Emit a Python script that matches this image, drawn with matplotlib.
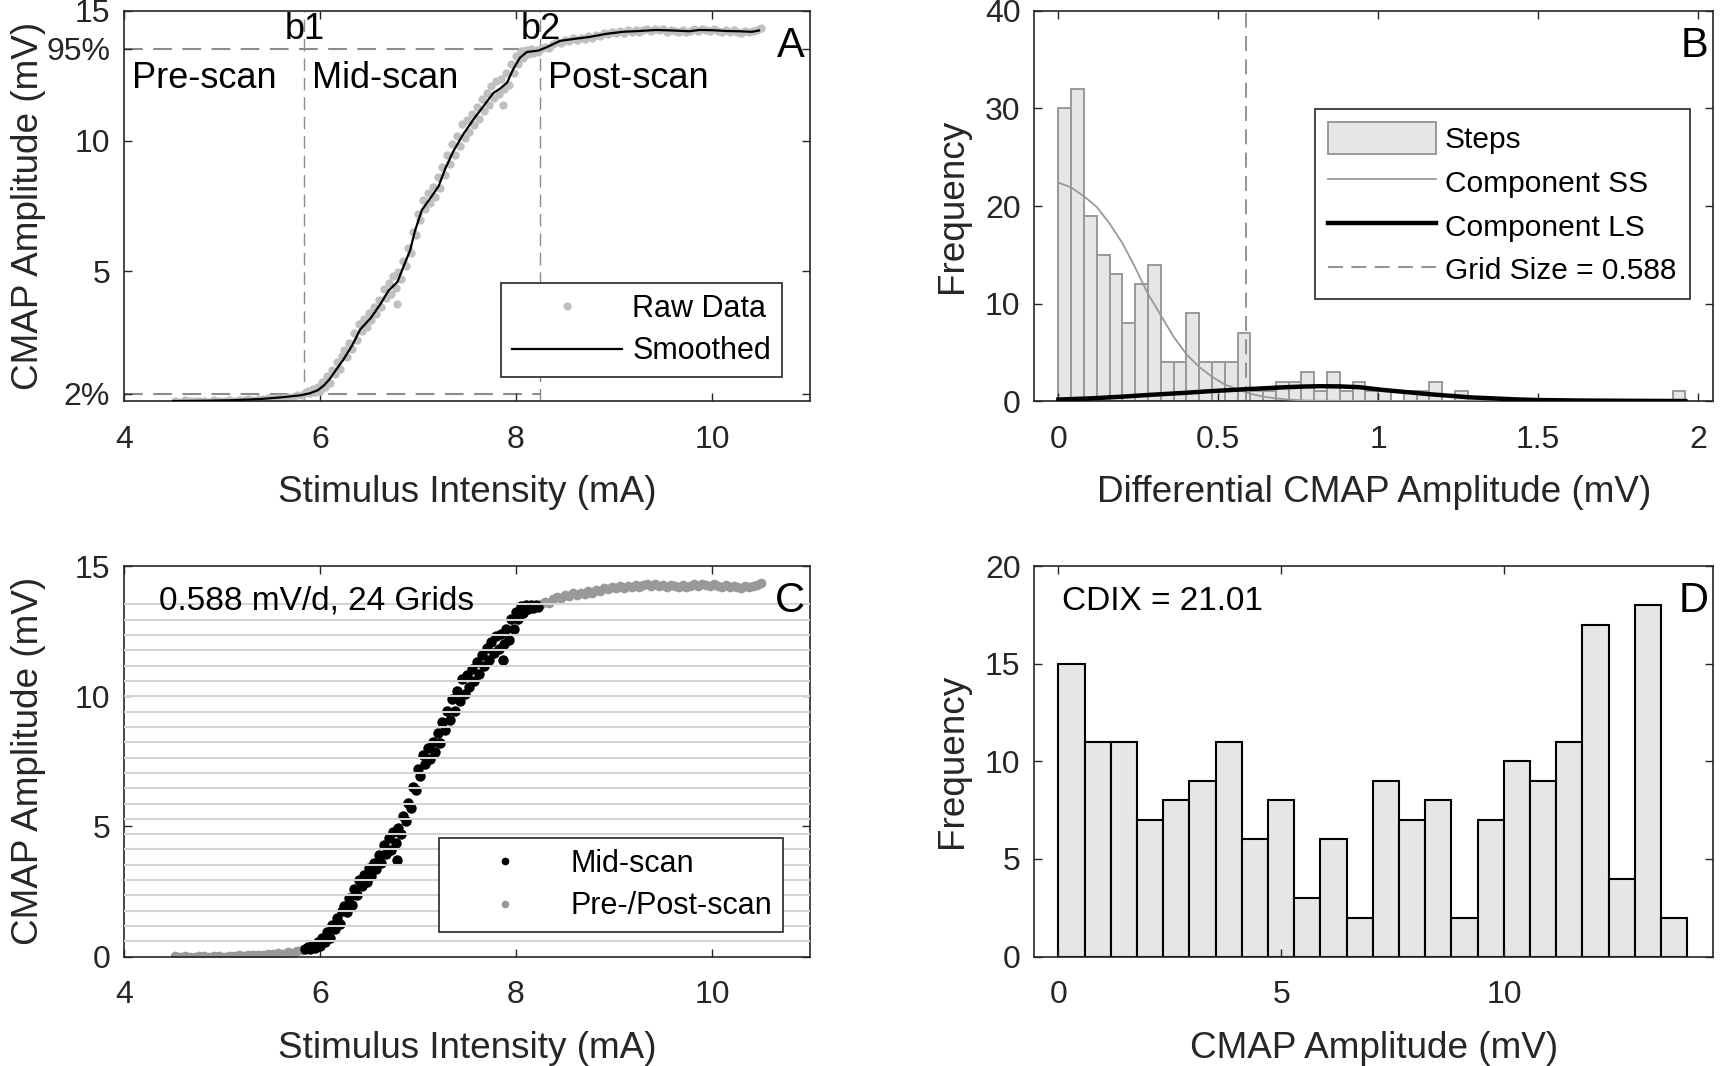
import numpy as np
import matplotlib
matplotlib.use('Agg')
import matplotlib.pyplot as plt
from matplotlib.patches import Patch
from matplotlib.lines import Line2D

plt.rcParams['font.family'] = ['Liberation Sans', 'DejaVu Sans']

# ---------------- data ----------------
# Raw CMAP scan (stimulus mA, amplitude mV), split into scan phases
pre_x = [4.52, 4.57, 4.62, 4.67, 4.72, 4.77, 4.82, 4.87, 4.92, 4.97, 5.02, 5.07, 5.12, 5.17,
         5.22, 5.27, 5.32, 5.37, 5.42, 5.47, 5.52, 5.57, 5.62, 5.67, 5.72, 5.77, 5.82]
pre_y = [0.01, -0.02, 0.03, 0.00, -0.01, 0.02, 0.01, -0.02, 0.03, 0.01, 0.00, 0.04, 0.02, 0.05,
         0.03, 0.07, 0.05, 0.08, 0.06, 0.11, 0.09, 0.13, 0.12, 0.17, 0.15, 0.22, 0.24]

mid_x = [5.850, 5.875, 5.900, 5.925, 5.950, 5.975, 6.000, 6.025, 6.050, 6.075,
         6.100, 6.125, 6.150, 6.175, 6.200, 6.225, 6.250, 6.275, 6.300, 6.325,
         6.350, 6.375, 6.400, 6.425, 6.450, 6.475, 6.500, 6.525, 6.550, 6.575,
         6.600, 6.625, 6.650, 6.675, 6.700, 6.725, 6.750, 6.775, 6.790, 6.800,
         6.825, 6.850, 6.875, 6.900, 6.925, 6.950, 6.975, 7.000, 7.025, 7.050,
         7.075, 7.100, 7.125, 7.150, 7.175, 7.200, 7.225, 7.250, 7.275, 7.300,
         7.325, 7.350, 7.375, 7.400, 7.425, 7.450, 7.475, 7.500, 7.525, 7.550,
         7.575, 7.600, 7.625, 7.650, 7.675, 7.700, 7.725, 7.750, 7.775, 7.800,
         7.825, 7.850, 7.870, 7.875, 7.900, 7.925, 7.950, 7.975, 8.000, 8.025,
         8.050, 8.075, 8.100, 8.125, 8.150, 8.175, 8.200, 8.225]
mid_y = [0.29, 0.38, 0.30, 0.45, 0.33, 0.55, 0.40, 0.72, 0.55, 0.95,
         0.70, 1.20, 1.05, 1.50, 1.25, 1.75, 1.95, 1.70, 2.25, 2.00,
         2.60, 2.35, 2.95, 2.70, 3.15, 2.85, 3.40, 3.10, 3.60, 3.35,
         3.90, 3.60, 4.30, 3.95, 4.55, 4.10, 4.80, 4.35, 3.72, 4.95,
         4.70, 5.40, 5.20, 5.90, 5.70, 6.50, 6.40, 7.20, 6.95, 7.75,
         7.40, 8.00, 7.60, 8.25, 7.85, 8.60, 8.20, 9.00, 8.70, 9.45,
         9.10, 9.90, 9.45, 10.20, 9.80, 10.65, 10.10, 10.80, 10.35, 11.05,
         10.60, 11.30, 10.85, 11.60, 11.15, 11.85, 11.40, 12.10, 11.65, 12.30,
         11.80, 12.40, 11.38, 12.00, 12.60, 12.15, 12.95, 12.60, 13.25, 12.95,
         13.45, 13.20, 13.50, 13.35, 13.52, 13.40, 13.50, 13.42]

post_x = [8.26, 8.30, 8.34, 8.38, 8.42, 8.46, 8.50, 8.54, 8.58, 8.62, 8.66, 8.70, 8.74, 8.78,
          8.82, 8.86, 8.90, 8.94, 8.98, 9.02, 9.06, 9.10, 9.14, 9.18, 9.22, 9.26, 9.30, 9.34,
          9.38, 9.42, 9.46, 9.50, 9.54, 9.58, 9.62, 9.66, 9.70, 9.74, 9.78, 9.82, 9.86, 9.90,
          9.94, 9.98, 10.02, 10.06, 10.10, 10.14, 10.18, 10.22, 10.26, 10.30, 10.34, 10.38,
          10.42, 10.46, 10.50]
post_y = [13.55, 13.62, 13.58, 13.72, 13.80, 13.78, 13.90, 13.85, 13.95, 13.90, 13.98, 13.94,
          14.05, 13.98, 14.08, 14.04, 14.15, 14.10, 14.20, 14.14, 14.22, 14.17, 14.25, 14.20,
          14.28, 14.21, 14.26, 14.30, 14.22, 14.32, 14.25, 14.29, 14.20, 14.28, 14.24, 14.18,
          14.26, 14.20, 14.24, 14.30, 14.22, 14.31, 14.27, 14.22, 14.30, 14.24, 14.20, 14.27,
          14.18, 14.25, 14.21, 14.17, 14.24, 14.19, 14.23, 14.28, 14.33]

# Smoothed curve
smooth_x = [4.50, 4.80, 5.10, 5.40, 5.60, 5.80, 5.90, 5.98, 6.04, 6.10, 6.16, 6.24, 6.33, 6.41,
            6.52, 6.62, 6.70, 6.79, 6.85, 6.92, 6.97, 7.04, 7.13, 7.21, 7.28, 7.36, 7.46, 7.57,
            7.67, 7.77, 7.84, 7.91, 7.97, 8.04, 8.11, 8.23, 8.31, 8.45, 8.60, 8.75, 8.92, 9.09,
            9.26, 9.43, 9.60, 9.77, 9.87, 10.01, 10.14, 10.28, 10.41, 10.48]
smooth_y = [0.00, 0.01, 0.03, 0.08, 0.14, 0.22, 0.30, 0.42, 0.60, 0.85, 1.18, 1.60, 2.15, 2.75,
            3.20, 3.75, 4.25, 4.58, 5.15, 5.80, 6.55, 7.35, 7.82, 8.26, 8.95, 9.60, 10.25, 10.85,
            11.35, 11.85, 12.02, 12.25, 12.75, 13.20, 13.42, 13.48, 13.60, 13.85, 13.93, 14.00,
            14.12, 14.20, 14.23, 14.27, 14.25, 14.22, 14.27, 14.26, 14.23, 14.22, 14.20, 14.25]

b1, b2 = 5.84, 8.25
pct2, pct95 = 0.285, 13.54
grid_size = 0.588

# Panel B: histogram of steps (bin width 0.04 mV)
step_bin_width = 0.04
step_counts = [30, 32, 19, 15, 13, 8, 12, 14, 4, 4, 9, 4, 4, 4, 7,
               1, 1, 2, 2, 3, 1, 3, 1, 2, 1, 1, 0, 1, 1, 2, 0, 1,
               0, 0, 0, 0, 0, 0, 0, 0, 0, 0, 0, 0, 0, 0, 0, 0, 1]
ss_x = [0.00, 0.04, 0.08, 0.12, 0.16, 0.20, 0.24, 0.28, 0.32, 0.36, 0.40, 0.44, 0.48, 0.52,
        0.56, 0.60, 0.64, 0.68, 0.72, 0.76, 0.80, 1.00, 1.50, 1.96]
ss_y = [22.4, 21.9, 21.0, 19.9, 18.2, 16.2, 13.7, 11.0, 8.8, 6.6, 4.8, 3.5, 2.5, 1.7,
        1.2, 0.75, 0.45, 0.27, 0.15, 0.07, 0.03, 0.0, 0.0, 0.0]
ls_x = [0.00, 0.10, 0.20, 0.28, 0.40, 0.48, 0.59, 0.70, 0.76, 0.82, 0.88, 0.94, 1.02, 1.16,
        1.29, 1.43, 1.50, 1.63, 1.80, 1.96]
ls_y = [0.15, 0.27, 0.45, 0.62, 0.85, 1.02, 1.22, 1.40, 1.48, 1.52, 1.50, 1.42, 1.12, 0.70,
        0.37, 0.17, 0.10, 0.05, 0.02, 0.0]

# Panel D: histogram of CMAP amplitudes on the grid
amp_counts = [15, 11, 11, 7, 8, 9, 11, 6, 8, 3, 6, 2, 9, 7, 8, 2, 7, 10, 9, 11, 17, 4, 18, 2]
cdix = 21.01
n_grids = 24

# ---------------- styling ----------------
DARK = '#262626'
TICK_FS = 23
LABEL_FS = 26.6
LEG_FS = 22
TXT_FS = 26
NOTE_FS = 24
LET_FS = 30
DASH = (0, (9, 5))

fig = plt.figure(figsize=(17.2, 10.66), dpi=100)
axA = fig.add_axes([0.0721, 0.6238, 0.3988, 0.3659])
axB = fig.add_axes([0.6014, 0.6238, 0.3948, 0.3659])
axC = fig.add_axes([0.0721, 0.1026, 0.3988, 0.3664])
axD = fig.add_axes([0.6014, 0.1026, 0.3948, 0.3664])


def style(ax):
    for s in ax.spines.values():
        s.set_color(DARK)
        s.set_linewidth(1.2)
    ax.tick_params(direction='in', length=6, width=1.0, colors=DARK, labelsize=TICK_FS,
                   top=True, right=True, labeltop=False, labelright=False)
    ax.tick_params(axis='x', pad=17)
    ax.tick_params(axis='y', pad=10)


def labels(ax, xl, yl, ylx):
    ax.set_xlabel(xl, fontsize=LABEL_FS, color=DARK)
    ax.set_ylabel(yl, fontsize=LABEL_FS, color=DARK)
    ax.xaxis.set_label_coords(0.5, -0.19)
    ax.yaxis.set_label_coords(ylx, 0.5)


def leg_style(leg):
    fr = leg.get_frame()
    fr.set_edgecolor(DARK)
    fr.set_linewidth(1.2)
    fr.set_facecolor('white')
    fr.set_alpha(1)


def letter(ax, s):
    ax.text(0.993, 0.91, s, transform=ax.transAxes, ha='right', va='center',
            fontsize=LET_FS, color='black', zorder=10)


# ---------------- Panel A ----------------
ax = axA
style(ax)
raw_x = pre_x + mid_x + post_x
raw_y = pre_y + mid_y + post_y
ax.plot(raw_x, raw_y, 'o', color='#c0c0c0', markersize=6, markeredgewidth=0, zorder=2)
ax.plot(smooth_x, smooth_y, '-', color='black', lw=1.6, zorder=3)
ax.plot([4, b2], [pct95, pct95], color='#8c8c8c', lw=1.5, ls=DASH, zorder=1)
ax.plot([4, b2], [pct2, pct2], color='#8c8c8c', lw=1.5, ls=DASH, zorder=1)
ax.axvline(b1, color='#8c8c8c', lw=1.0, ls=DASH, zorder=1)
ax.axvline(b2, color='#8c8c8c', lw=1.0, ls=DASH, zorder=1)
ax.text(b1, 14.3, 'b1', ha='center', va='center', fontsize=TXT_FS)
ax.text(b2, 14.3, 'b2', ha='center', va='center', fontsize=TXT_FS)
ax.text(4.08, 12.4, 'Pre-scan', ha='left', va='center', fontsize=TXT_FS)
ax.text(b1 + 0.08, 12.4, 'Mid-scan', ha='left', va='center', fontsize=TXT_FS)
ax.text(b2 + 0.08, 12.4, 'Post-scan', ha='left', va='center', fontsize=TXT_FS)
letter(ax, 'A')
ax.set_xlim(4, 11)
ax.set_ylim(0, 15)
ax.set_xticks([4, 6, 8, 10])
ax.set_yticks([pct2, 5, 10, pct95, 15])
ax.set_yticklabels(['2%', '5', '10', '95%', '15'])
labels(ax, 'Stimulus Intensity (mA)', 'CMAP Amplitude (mV)', -0.114)
hA = [Line2D([], [], marker='o', ls='none', color='#c0c0c0', markersize=6, markeredgewidth=0),
      Line2D([], [], color='black', lw=1.6)]
leg = ax.legend(hA, ['Raw Data', 'Smoothed'], loc='upper right', bbox_to_anchor=(0.959, 0.303),
                fontsize=LEG_FS, handlelength=3.6, handletextpad=0.35, borderpad=0.35,
                labelspacing=0.42, fancybox=False, numpoints=1, borderaxespad=0)
leg_style(leg)

# ---------------- Panel B ----------------
ax = axB
style(ax)
lefts = np.arange(len(step_counts)) * step_bin_width
ax.bar(lefts, step_counts, width=step_bin_width, align='edge', color='#e6e6e6',
       edgecolor='#999999', linewidth=1.4, zorder=1)
ax.plot(ss_x, ss_y, color='#999999', lw=1.3, zorder=3)
ax.plot(ls_x, ls_y, color='black', lw=3.2, zorder=4)
ax.axvline(grid_size, color='#808080', lw=1.2, ls=DASH, zorder=2)
letter(ax, 'B')
ax.set_xlim(-0.075, 2.048)
ax.set_ylim(0, 40)
ax.set_xticks([0, 0.5, 1, 1.5, 2])
ax.set_xticklabels(['0', '0.5', '1', '1.5', '2'])
ax.set_yticks([0, 10, 20, 30, 40])
labels(ax, 'Differential CMAP Amplitude (mV)', 'Frequency', -0.0955)
hB = [Patch(facecolor='#e6e6e6', edgecolor='#999999', linewidth=1.4),
      Line2D([], [], color='#999999', lw=1.3),
      Line2D([], [], color='black', lw=3.2),
      Line2D([], [], color='#808080', lw=1.2, ls=DASH)]
leg = ax.legend(hB, ['Steps', 'Component SS', 'Component LS', 'Grid Size = %.3f' % grid_size],
                loc='upper right', bbox_to_anchor=(0.965, 0.749), fontsize=21.5,
                handlelength=3.6, handleheight=1.25, handletextpad=0.3, borderpad=0.45,
                labelspacing=0.4, fancybox=False, borderaxespad=0)
leg_style(leg)

# ---------------- Panel C ----------------
ax = axC
style(ax)
for k in range(1, n_grids):
    ax.axhline(k * grid_size, color='#d4d4d4', lw=1.5, zorder=3)
ax.plot(pre_x + post_x, pre_y + post_y, 'o', color='#999999', markersize=7,
        markeredgewidth=0, zorder=2)
ax.plot(mid_x, mid_y, 'o', color='black', markersize=7.5, markeredgewidth=0, zorder=2)
ax.text(0.051, 0.91, '%.3f mV/d, %d Grids' % (grid_size, n_grids), transform=ax.transAxes,
        ha='left', va='center', fontsize=NOTE_FS, zorder=10)
letter(ax, 'C')
ax.set_xlim(4, 11)
ax.set_ylim(0, 15)
ax.set_xticks([4, 6, 8, 10])
ax.set_yticks([0, 5, 10, 15])
labels(ax, 'Stimulus Intensity (mA)', 'CMAP Amplitude (mV)', -0.114)
hC = [Line2D([], [], marker='o', ls='none', color='black', markersize=5.5, markeredgewidth=0),
      Line2D([], [], marker='o', ls='none', color='#999999', markersize=5.5, markeredgewidth=0)]
leg = ax.legend(hC, ['Mid-scan', 'Pre-/Post-scan'], loc='upper right',
                bbox_to_anchor=(0.961, 0.304), fontsize=LEG_FS, handlelength=3.6,
                handletextpad=0.35, borderpad=0.35, labelspacing=0.42, fancybox=False,
                numpoints=1, borderaxespad=0)
leg_style(leg)
leg.set_zorder(20)

# ---------------- Panel D ----------------
ax = axD
style(ax)
leftsD = np.arange(len(amp_counts)) * grid_size
ax.bar(leftsD, amp_counts, width=grid_size, align='edge', color='#e6e6e6',
       edgecolor='black', linewidth=1.5)
ax.text(0.040, 0.91, 'CDIX = %.2f' % cdix, transform=ax.transAxes, ha='left', va='center',
        fontsize=NOTE_FS)
letter(ax, 'D')
ax.set_xlim(-0.54, 14.70)
ax.set_ylim(0, 20)
ax.set_xticks([0, 5, 10])
ax.set_yticks([0, 5, 10, 15, 20])
labels(ax, 'CMAP Amplitude (mV)', 'Frequency', -0.0955)

fig.savefig('out.png', dpi=100)
